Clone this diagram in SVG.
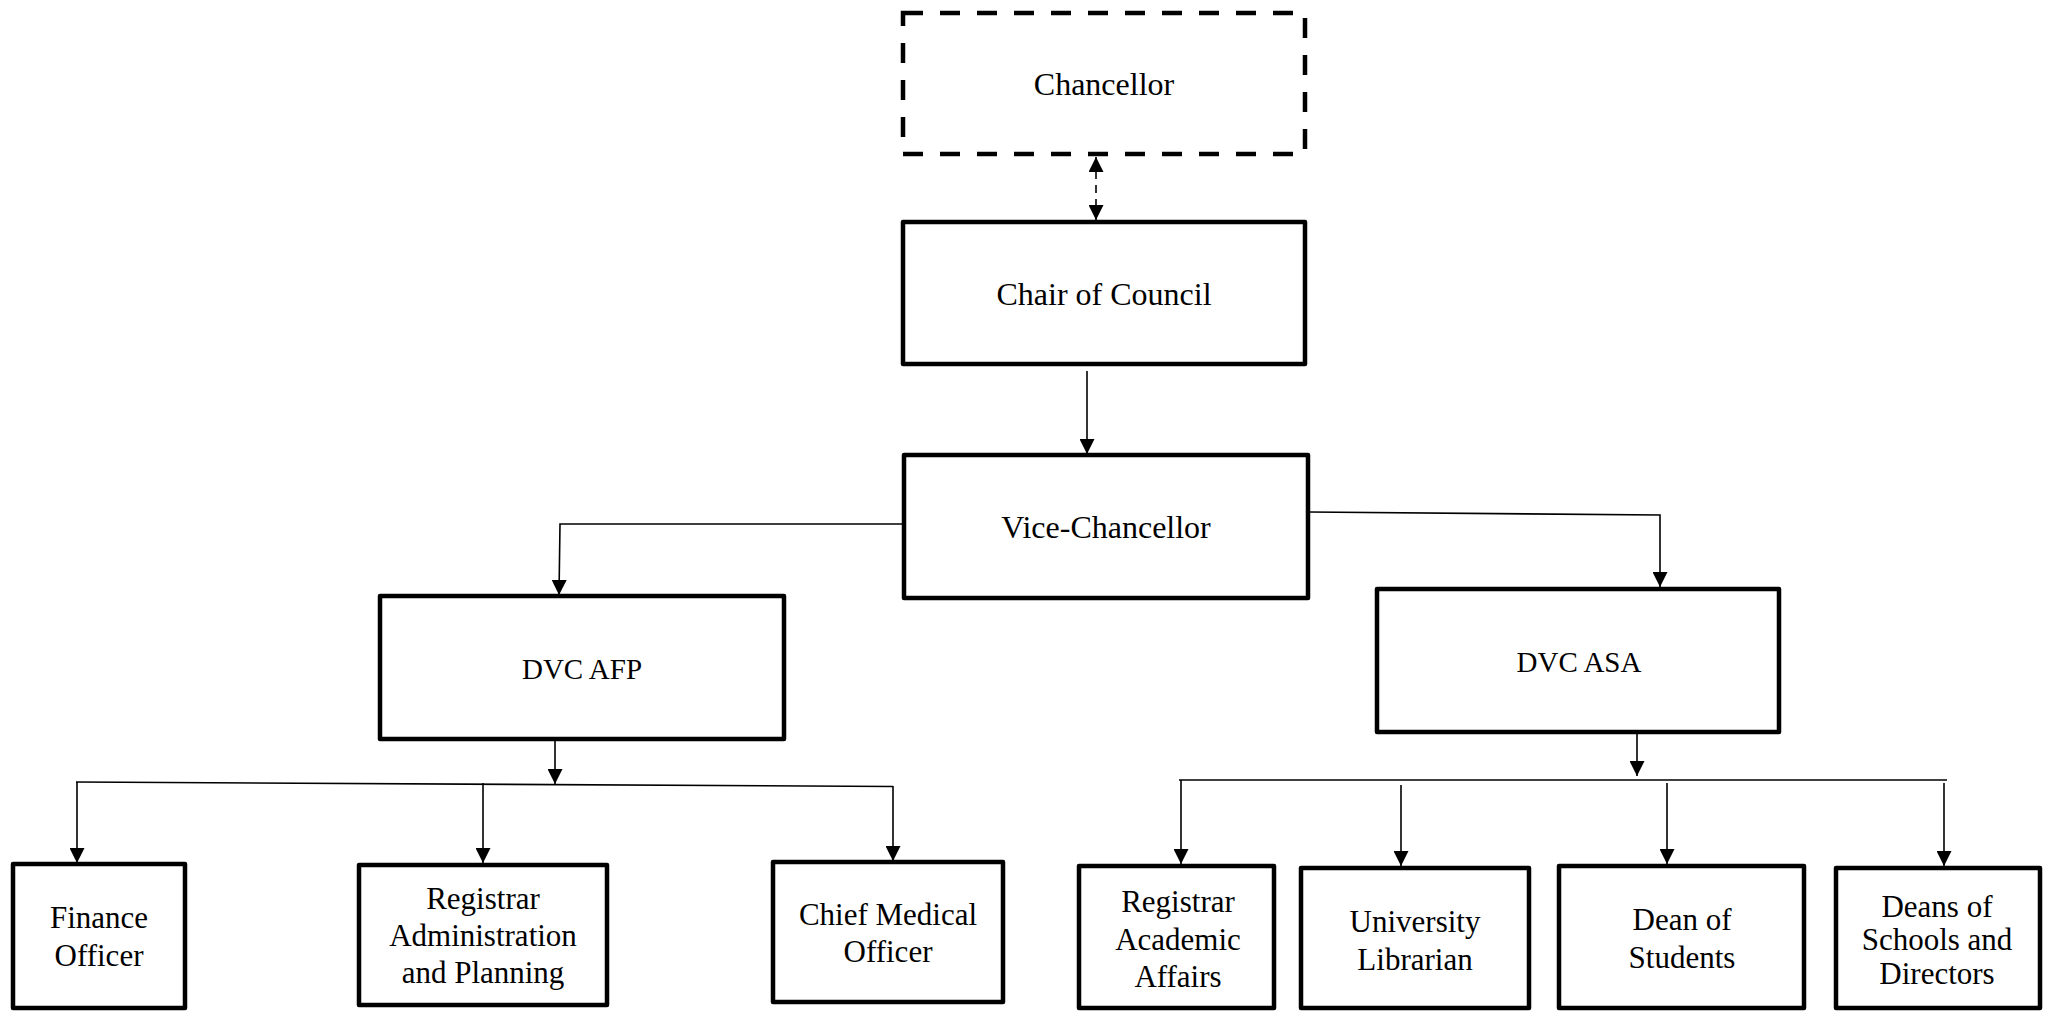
<svg xmlns="http://www.w3.org/2000/svg" width="2045" height="1011" viewBox="0 0 2045 1011">
<style>
.box{fill:#fff;stroke:#000;stroke-width:4.5;stroke-linejoin:round}
.dash{fill:#fff;stroke:#000;stroke-width:4.5;stroke-dasharray:20 17}
.t{font-family:"Liberation Serif","Times New Roman",serif;fill:#000;text-anchor:middle}
.big{font-size:32px}
.mid{font-size:29px}
.sm{font-size:31px}
.c{fill:none;stroke:#000;stroke-width:1.6}
.cd{fill:none;stroke:#000;stroke-width:1.6;stroke-dasharray:8 6}
</style>
<defs>
<marker id="ah" viewBox="0 0 16 16" refX="16" refY="8" markerWidth="16" markerHeight="15" markerUnits="userSpaceOnUse" orient="auto-start-reverse">
<path d="M0,0 L16,8 L0,16 z" fill="#000"/>
</marker>
</defs>
<rect width="2045" height="1011" fill="#fff"/>
<g id="connectors">
<line class="cd" x1="1096" y1="157" x2="1096" y2="220" marker-start="url(#ah)" marker-end="url(#ah)"/>
<line class="c" x1="1087" y1="371" x2="1087" y2="454" marker-end="url(#ah)"/>
<polyline class="c" points="904,524 560,524 559,595" marker-end="url(#ah)"/>
<polyline class="c" points="1309,512 1660,515 1660,587" marker-end="url(#ah)"/>
<line class="c" x1="555" y1="739" x2="555" y2="784" marker-end="url(#ah)"/>
<line class="c" x1="76" y1="782" x2="893" y2="786.5"/>
<line class="c" x1="77" y1="782" x2="77" y2="863" marker-end="url(#ah)"/>
<line class="c" x1="483" y1="783" x2="483" y2="863" marker-end="url(#ah)"/>
<line class="c" x1="893" y1="786" x2="893" y2="861" marker-end="url(#ah)"/>
<line class="c" x1="1637" y1="732" x2="1637" y2="776" marker-end="url(#ah)"/>
<line class="c" x1="1179" y1="780" x2="1947" y2="780"/>
<line class="c" x1="1181" y1="780" x2="1181" y2="864" marker-end="url(#ah)"/>
<line class="c" x1="1401" y1="785" x2="1401" y2="866" marker-end="url(#ah)"/>
<line class="c" x1="1667" y1="783" x2="1667" y2="864" marker-end="url(#ah)"/>
<line class="c" x1="1944" y1="783" x2="1944" y2="866" marker-end="url(#ah)"/>
</g>
<g id="chancellor">
<rect class="dash" x="903" y="13" width="402" height="141"/>
<text class="t big" x="1104" y="95">Chancellor</text>
</g>
<g id="chair">
<rect class="box" x="903" y="222" width="402" height="142"/>
<text class="t big" x="1104" y="305">Chair of Council</text>
</g>
<g id="vc">
<rect class="box" x="904" y="455" width="404" height="143"/>
<text class="t big" x="1106" y="538">Vice-Chancellor</text>
</g>
<g id="dvc-afp">
<rect class="box" x="380" y="596" width="404" height="143"/>
<text class="t mid" x="582" y="679">DVC AFP</text>
</g>
<g id="dvc-asa">
<rect class="box" x="1377" y="589" width="402" height="143"/>
<text class="t mid" x="1579" y="672">DVC ASA</text>
</g>
<g id="finance">
<rect class="box" x="13" y="864" width="172" height="144"/>
<text class="t sm" x="99" y="928">Finance</text>
<text class="t sm" x="99" y="966">Officer</text>
</g>
<g id="registrar-ap">
<rect class="box" x="359" y="865" width="248" height="140"/>
<text class="t sm" x="483" y="909">Registrar</text>
<text class="t sm" x="483" y="946">Administration</text>
<text class="t sm" x="483" y="983">and Planning</text>
</g>
<g id="cmo">
<rect class="box" x="773" y="862" width="230" height="140"/>
<text class="t sm" x="888" y="925">Chief Medical</text>
<text class="t sm" x="888" y="962">Officer</text>
</g>
<g id="registrar-aa">
<rect class="box" x="1079" y="866" width="195" height="142"/>
<text class="t sm" x="1178" y="912">Registrar</text>
<text class="t sm" x="1178" y="950">Academic</text>
<text class="t sm" x="1178" y="987">Affairs</text>
</g>
<g id="librarian">
<rect class="box" x="1301" y="868" width="228" height="140"/>
<text class="t sm" x="1415" y="932">University</text>
<text class="t sm" x="1415" y="970">Librarian</text>
</g>
<g id="dean-students">
<rect class="box" x="1559" y="866" width="245" height="142"/>
<text class="t sm" x="1682" y="930">Dean of</text>
<text class="t sm" x="1682" y="968">Students</text>
</g>
<g id="deans-schools">
<rect class="box" x="1836" y="868" width="204" height="140"/>
<text class="t sm" x="1937" y="917">Deans of</text>
<text class="t sm" x="1937" y="950">Schools and</text>
<text class="t sm" x="1937" y="984">Directors</text>
</g>
</svg>
